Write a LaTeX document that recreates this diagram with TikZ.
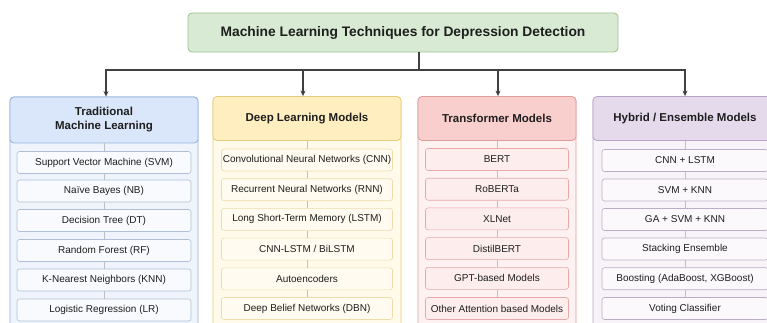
\documentclass[tikz,border=0pt]{standalone}
\usepackage{fontspec}
\setmainfont{Liberation Sans}
\usepackage{xcolor}
\usepackage{tikz}
\usetikzlibrary{positioning}
\usetikzlibrary{arrows.meta}

\definecolor{titlefill}{HTML}{D8EAD3}
\definecolor{titleline}{HTML}{9CC28D}
\definecolor{bluehead}{HTML}{DAE7FA}
\definecolor{blueline}{HTML}{93B1DC}
\definecolor{bluebody}{HTML}{EFF4FC}
\definecolor{blueitem}{HTML}{F8FAFD}
\definecolor{blueitemline}{HTML}{AEBFD6}
\definecolor{yellowhead}{HTML}{FFEFC0}
\definecolor{yellowline}{HTML}{E6CB78}
\definecolor{yellowbody}{HTML}{FFFAEA}
\definecolor{yellowitem}{HTML}{FFFBF1}
\definecolor{yellowitemline}{HTML}{EEDCA8}
\definecolor{redhead}{HTML}{F8CFCD}
\definecolor{redline}{HTML}{DE9D9A}
\definecolor{redbody}{HTML}{FDF1F1}
\definecolor{reditem}{HTML}{FDEDED}
\definecolor{reditemline}{HTML}{E6A9A7}
\definecolor{purplehead}{HTML}{E4DAEC}
\definecolor{purpleline}{HTML}{B8A4C9}
\definecolor{purplebody}{HTML}{F7F3F9}
\definecolor{purpleitem}{HTML}{FBF9FC}
\definecolor{purpleitemline}{HTML}{BBADC6}
\definecolor{ink}{HTML}{1E1E1E}

\begin{document}
\begin{tikzpicture}[x=1pt,y=-1pt,
  titlebox/.style={draw=titleline,fill=titlefill,rounded corners=4pt,line width=0.8pt,
    minimum width=430pt,minimum height=39pt,text=ink,font=\bfseries\fontsize{13.8}{16}\selectfont},
  headbox/.style={rounded corners=4pt,line width=0.8pt,minimum height=44pt,align=center,
    text=ink,font=\bfseries\fontsize{11.5}{14}\selectfont},
  itembox/.style={rounded corners=2.5pt,line width=0.6pt,minimum height=22pt,inner sep=1pt,
    text=ink,font=\fontsize{10}{12}\selectfont},
  bus/.style={draw=black!75,line width=1.1pt},
  busarrow/.style={bus,-{Stealth[length=5.5pt,width=5pt]}},
  link/.style={draw=black!25,line width=0.4pt}]
\useasboundingbox (0,0) rectangle (767,323);
\clip (0,0) rectangle (767,323);
\fill[white] (0,0) rectangle (767,323);

%title
\node[titlebox] (title) at (403,32.5) {Machine Learning Techniques for Depression Detection};
\coordinate (split) at (419,70);

%columns
\filldraw[draw=blueline,fill=bluebody,line width=0.8pt,rounded corners=4pt] (10,97) rectangle (198,345);
\filldraw[draw=yellowline,fill=yellowbody,line width=0.8pt,rounded corners=4pt] (213,97) rectangle (401,345);
\filldraw[draw=redline,fill=redbody,line width=0.8pt,rounded corners=4pt] (418,97) rectangle (576,345);
\filldraw[draw=purpleline,fill=purplebody,line width=0.8pt,rounded corners=4pt] (593,97) rectangle (777,345);

\node[headbox,draw=blueline,fill=bluehead,minimum width=188pt,minimum height=46pt] (trad) at (104,120) {Traditional\\Machine Learning};
\node[headbox,draw=yellowline,fill=yellowhead,minimum width=188pt] (deep) at (307,118.5) {Deep Learning Models};
\node[headbox,draw=redline,fill=redhead,minimum width=158pt] (trans) at (497,118.5) {Transformer Models};
\node[headbox,draw=purpleline,fill=purplehead,minimum width=184pt] (hyb) at (685,118.5) {Hybrid / Ensemble Models};

%Traditional ML
\node[itembox,draw=blueitemline,fill=blueitem,minimum width=174pt] (trad1) at (104,162.5) {Support Vector Machine (SVM)};
\node[itembox,draw=blueitemline,fill=blueitem,minimum width=174pt] (trad2) at (104,191) {Naïve Bayes (NB)};
\node[itembox,draw=blueitemline,fill=blueitem,minimum width=174pt] (trad3) at (104,220.5) {Decision Tree (DT)};
\node[itembox,draw=blueitemline,fill=blueitem,minimum width=174pt] (trad4) at (104,250.5) {Random Forest (RF)};
\node[itembox,draw=blueitemline,fill=blueitem,minimum width=174pt] (trad5) at (104,280) {K-Nearest Neighbors (KNN)};
\node[itembox,draw=blueitemline,fill=blueitem,minimum width=174pt] (trad6) at (104,310) {Logistic Regression (LR)};

%Deep learning
\node[itembox,draw=yellowitemline,fill=yellowitem,minimum width=171pt] (deep1) at (307,160) {Convolutional Neural Networks (CNN)};
\node[itembox,draw=yellowitemline,fill=yellowitem,minimum width=171pt] (deep2) at (307,189.7) {Recurrent Neural Networks (RNN)};
\node[itembox,draw=yellowitemline,fill=yellowitem,minimum width=171pt] (deep3) at (307,219.4) {Long Short-Term Memory (LSTM)};
\node[itembox,draw=yellowitemline,fill=yellowitem,minimum width=171pt] (deep4) at (307,249.1) {CNN-LSTM / BiLSTM};
\node[itembox,draw=yellowitemline,fill=yellowitem,minimum width=171pt] (deep5) at (307,278.8) {Autoencoders};
\node[itembox,draw=yellowitemline,fill=yellowitem,minimum width=171pt] (deep6) at (307,308.5) {Deep Belief Networks (DBN)};

%Transformers
\node[itembox,draw=reditemline,fill=reditem,minimum width=143pt] (trans1) at (497,159.5) {BERT};
\node[itembox,draw=reditemline,fill=reditem,minimum width=143pt] (trans2) at (497,189.2) {RoBERTa};
\node[itembox,draw=reditemline,fill=reditem,minimum width=143pt] (trans3) at (497,218.9) {XLNet};
\node[itembox,draw=reditemline,fill=reditem,minimum width=143pt] (trans4) at (497,248.6) {DistilBERT};
\node[itembox,draw=reditemline,fill=reditem,minimum width=143pt] (trans5) at (497,278.3) {GPT-based Models};
\node[itembox,draw=reditemline,fill=reditem,minimum width=143pt] (trans6) at (497,308.5) {Other Attention based Models};

%Hybrid
\node[itembox,draw=purpleitemline,fill=purpleitem,minimum width=166pt] (hyb1) at (685,160.5) {CNN + LSTM};
\node[itembox,draw=purpleitemline,fill=purpleitem,minimum width=166pt] (hyb2) at (685,190) {SVM + KNN};
\node[itembox,draw=purpleitemline,fill=purpleitem,minimum width=166pt] (hyb3) at (685,219.5) {GA + SVM + KNN};
\node[itembox,draw=purpleitemline,fill=purpleitem,minimum width=166pt] (hyb4) at (685,249) {Stacking Ensemble};
\node[itembox,draw=purpleitemline,fill=purpleitem,minimum width=166pt] (hyb5) at (685,278.7) {Boosting (AdaBoost, XGBoost)};
\node[itembox,draw=purpleitemline,fill=purpleitem,minimum width=166pt] (hyb6) at (685,308.5) {Voting Classifier};

%links inside the columns
\draw[link] (trad)--(trad1) (trad1)--(trad2) (trad2)--(trad3) (trad3)--(trad4) (trad4)--(trad5) (trad5)--(trad6);
\draw[link] (deep)--(deep1) (deep1)--(deep2) (deep2)--(deep3) (deep3)--(deep4) (deep4)--(deep5) (deep5)--(deep6);
\draw[link] (trans)--(trans1) (trans1)--(trans2) (trans2)--(trans3) (trans3)--(trans4) (trans4)--(trans5) (trans5)--(trans6);
\draw[link] (hyb)--(hyb1) (hyb1)--(hyb2) (hyb2)--(hyb3) (hyb3)--(hyb4) (hyb4)--(hyb5) (hyb5)--(hyb6);

%bus
\draw[bus] (split |- title.south)--(split);
\draw[busarrow] (split) -| ([xshift=2pt]trad.north);
\draw[busarrow] (split) -| ([xshift=-4pt]deep.north);
\draw[busarrow] (split) -| ([xshift=1pt]trans.north);
\draw[busarrow] (split) -| (hyb.north);
\end{tikzpicture}
\end{document}
